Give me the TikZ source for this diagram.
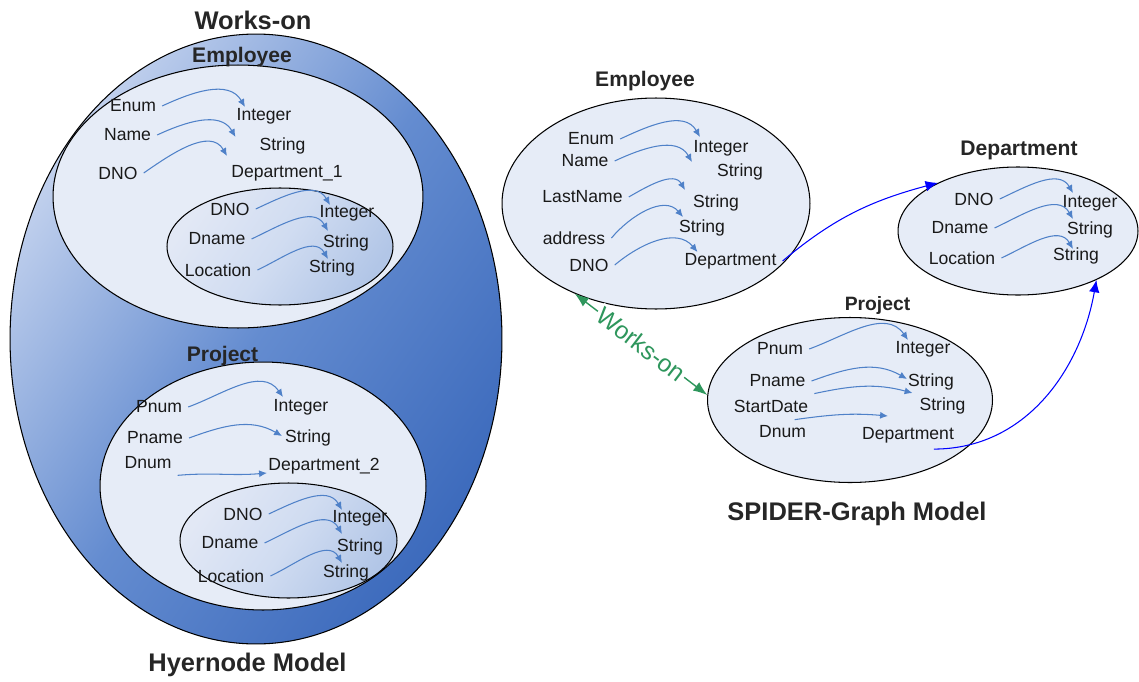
\documentclass[tikz,border=0pt]{standalone}
\usepackage{fontspec}
\setmainfont{Liberation Sans}
\usetikzlibrary{shapes.geometric,arrows.meta}

\definecolor{paleblue}{RGB}{230,236,247}
\definecolor{sublight}{RGB}{226,232,245}
\definecolor{submid}{RGB}{208,220,241}
\definecolor{subdark}{RGB}{178,198,231}
\definecolor{hyperlight}{RGB}{195,210,238}
\definecolor{hypermid}{RGB}{100,140,208}
\definecolor{hyperdark}{RGB}{60,106,188}
\definecolor{arrowblue}{RGB}{79,129,200}
\definecolor{linkgreen}{RGB}{46,150,92}

\tikzset{
  set/.style={ellipse, draw=black, line width=0.6pt, inner sep=0pt},
  flatset/.style={set, fill=paleblue},
  subset/.style={set, top color=sublight, bottom color=subdark, middle color=submid, shading angle=55},
  hyperset/.style={set, top color=hyperlight, bottom color=hyperdark, middle color=hypermid, shading angle=55},
  lbl/.style={font=\fontsize{10}{12}\selectfont, text=black!90},
  head/.style={font=\bfseries\fontsize{12}{14}\selectfont, text=black!85},
  title/.style={font=\bfseries\fontsize{14.5}{17}\selectfont, text=black!85},
  attr/.style={draw=arrowblue, line width=0.6pt, -{Latex[length=4.5pt,width=4pt]}},
  link/.style={draw=blue, line width=0.6pt, -{Latex[length=7pt,width=6pt]}},
  workson/.style={draw=linkgreen, line width=0.8pt, {Latex[length=8pt,width=6pt]}-{Latex[length=8pt,width=6pt]}}
}

\begin{document}
\begin{tikzpicture}[x=0.02cm,y=0.02cm]
\useasboundingbox (0,0) rectangle (1139,681);

% hypernode model
\node[hyperset, minimum width=9.84cm, minimum height=12.2cm] (hyper) at (256,342) {};
\node[flatset, minimum width=7.4cm, minimum height=5.26cm] (emp1) at (238,484.5) {};
\node[subset, minimum width=4.52cm, minimum height=2.34cm] (dep1) at (280,434.5) {};
\node[flatset, minimum width=6.52cm, minimum height=4.96cm] (proj1) at (263,195) {};
\node[subset, minimum width=4.34cm, minimum height=2.3cm] (dep2) at (288.5,140.5) {};

\node[title] (works-t) at (253,661) {Works-on};
\node[head] (emp1-t) at (242,624) {Employee};
\node[head] (proj1-t) at (222.5,325) {Project};
\node[title] (hyper-t) at (247.5,16) {Hyernode Model};

\node[lbl] (le-enum) at (133,575) {Enum};
\node[lbl] (le-int) at (264,565) {Integer};
\node[lbl] (le-name) at (127.5,546) {Name};
\node[lbl] (le-str) at (282.5,535) {String};
\node[lbl] (le-dno) at (118,508) {DNO};
\node[lbl] (le-dep) at (287,508) {Department\_1};
\node[lbl] (ld1-dno) at (230,472) {DNO};
\node[lbl] (ld1-int) at (347,468) {Integer};
\node[lbl] (ld1-dname) at (217,442) {Dname};
\node[lbl] (ld1-str1) at (346,438) {String};
\node[lbl] (ld1-loc) at (218,411) {Location};
\node[lbl] (ld1-str2) at (332,413) {String};

\draw[attr] (le-enum.east) to[out=25,in=120] ([shift={(-19,9)}]le-int.center);
\draw[attr] (le-name.east) to[out=25,in=120] ([shift={(-47,9)}]le-str.center);
\draw[attr] (le-dno.east) to[out=35,in=120] ([shift={(-60,17)}]le-dep.center);
\draw[attr] (ld1-dno.east) to[out=25,in=120] ([shift={(-17,8)}]ld1-int.center);
\draw[attr] (ld1-dname.east) to[out=25,in=120] ([shift={(-18,12)}]ld1-str1.center);
\draw[attr] (ld1-loc.east) to[out=25,in=120] ([shift={(-4,9)}]ld1-str2.center);

\node[lbl] (lp-pnum) at (159,274) {Pnum};
\node[lbl] (lp-int) at (301,274) {Integer};
\node[lbl] (lp-pname) at (155,243) {Pname};
\node[lbl] (lp-str) at (308,243) {String};
\node[lbl] (lp-dnum) at (148,218) {Dnum};
\node[lbl] (lp-dep) at (324,215) {Department\_2};
\node[lbl] (ld2-dno) at (243,167) {DNO};
\node[lbl] (ld2-int) at (360,163) {Integer};
\node[lbl] (ld2-dname) at (230,138) {Dname};
\node[lbl] (ld2-str1) at (360,134) {String};
\node[lbl] (ld2-loc) at (231,105) {Location};
\node[lbl] (ld2-str2) at (346,108) {String};

\draw[attr] (lp-pnum.east) to[out=20,in=125] ([shift={(-18,10)}]lp-int.center);
\draw[attr] (lp-pname.east) to[out=20,in=150] ([shift={(-26,2)}]lp-str.center);
\draw[attr] (lp-dnum.south east) to[out=5,in=185] ([shift={(-57,-7)}]lp-dep.center);
\draw[attr] (ld2-dno.east) to[out=25,in=120] ([shift={(-18,8)}]ld2-int.center);
\draw[attr] (ld2-dname.east) to[out=25,in=120] ([shift={(-18,13)}]ld2-str1.center);
\draw[attr] (ld2-loc.east) to[out=25,in=120] ([shift={(-4,10)}]ld2-str2.center);

% spider graph model
\node[flatset, minimum width=6.16cm, minimum height=4.22cm] (emp2) at (656,477.5) {};
\node[flatset, minimum width=4.8cm, minimum height=2.56cm] (dept) at (1018,450) {};
\node[flatset, minimum width=5.7cm, minimum height=3.3cm] (proj2) at (850,281) {};

\node[head] (emp2-t) at (645,600) {Employee};
\node[head] (dept-t) at (1019,531) {Department};
\node[head, font=\bfseries\fontsize{11}{13}\selectfont] (proj2-t) at (877.5,376) {Project};
\node[title] (spider-t) at (857,167) {SPIDER-Graph Model};

\node[lbl] (re-enum) at (591,542) {Enum};
\node[lbl] (re-int) at (721,533) {Integer};
\node[lbl] (re-name) at (585,520) {Name};
\node[lbl] (re-str1) at (740,509) {String};
\node[lbl] (re-last) at (582.5,484) {LastName};
\node[lbl] (re-str2) at (716,478) {String};
\node[lbl] (re-addr) at (574,443) {address};
\node[lbl] (re-str3) at (702,453) {String};
\node[lbl] (re-dno) at (589,416) {DNO};
\node[lbl] (re-dep) at (730.5,420) {Department};

\draw[attr] (re-enum.east) to[out=25,in=120] ([shift={(-21,11)}]re-int.center);
\draw[attr] (re-name.east) to[out=25,in=120] ([shift={(-48,10)}]re-str1.center);
\draw[attr] (re-last.east) to[out=30,in=120] ([shift={(-31,13)}]re-str2.center);
\draw[attr] (re-addr.east) to[out=50,in=130] ([shift={(-19,11)}]re-str3.center);
\draw[attr] (re-dno.east) to[out=40,in=130] ([shift={(-33,9)}]re-dep.center);

\node[lbl] (rd-dno) at (974,482) {DNO};
\node[lbl] (rd-int) at (1090,478) {Integer};
\node[lbl] (rd-dname) at (960,453) {Dname};
\node[lbl] (rd-str1) at (1090,451) {String};
\node[lbl] (rd-loc) at (962,423) {Location};
\node[lbl] (rd-str2) at (1076,425) {String};

\draw[attr] (rd-dno.east) to[out=25,in=120] ([shift={(-17,10)}]rd-int.center);
\draw[attr] (rd-dname.east) to[out=25,in=120] ([shift={(-17,11)}]rd-str1.center);
\draw[attr] (rd-loc.east) to[out=25,in=120] ([shift={(-3,7)}]rd-str2.center);

\node[lbl] (rp-pnum) at (780,332) {Pnum};
\node[lbl] (rp-int) at (923,332) {Integer};
\node[lbl] (rp-pname) at (777.5,300) {Pname};
\node[lbl] (rp-str1) at (931,299) {String};
\node[lbl] (rp-start) at (771,275) {StartDate};
\node[lbl] (rp-str2) at (942.5,275) {String};
\node[lbl] (rp-dnum) at (782.5,249) {Dnum};
\node[lbl] (rp-dep) at (908,246) {Department};

\draw[attr] (rp-pnum.east) to[out=20,in=125] ([shift={(-15,9)}]rp-int.center);
\draw[attr] (rp-pname.east) to[out=20,in=150] ([shift={(-24,3)}]rp-str1.center);
\draw[attr] (rp-start.north east) to[out=12,in=165] ([shift={(-30,13)}]rp-str2.center);
\draw[attr] ([xshift=-10]rp-dnum.north east) to[out=8,in=175] ([shift={(-20,19)}]rp-dep.center);

% links between the sets
\draw[workson] (emp2.228) -- node[sloped, fill=white, inner sep=1pt, text=linkgreen, font=\fontsize{14}{16}\selectfont] (works-l) {Works-on} (proj2.178);
\draw[link] (re-dep.east) to[out=40,in=195] (dept.149);
\draw[link] ([xshift=-15]rp-dep.south east) to[out=0,in=260] (dept.328);

\end{tikzpicture}
\end{document}
